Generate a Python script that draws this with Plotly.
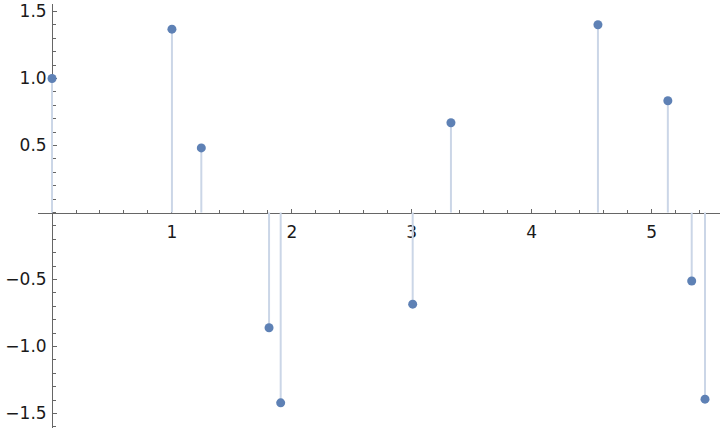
import plotly.graph_objects as go

# data
x_vals = [0.0, 1.0, 1.245, 1.81, 1.907, 3.008, 3.327, 4.553, 5.136, 5.335, 5.446]
y_vals = [1.0, 1.368, 0.482, -0.86, -1.42, -0.684, 0.67, 1.401, 0.834, -0.511, -1.393]
x_ticks = [1, 2, 3, 4, 5]
y_ticks = [-1.5, -1.0, -0.5, 0.5, 1.0, 1.5]

x_range = [-0.117, 5.571]
y_range = [-1.608, 1.556]

stem_x, stem_y = [], []
for xv, yv in zip(x_vals, y_vals):
    stem_x += [xv, xv, None]
    stem_y += [0, yv, None]

point_color = "#5E81B5"
stem_color = "rgb(203,214,231)"
axis_color = "#666666"

fig = go.Figure()
fig.add_trace(go.Scatter(x=stem_x, y=stem_y, mode="lines",
                         line=dict(color=stem_color, width=2),
                         hoverinfo="skip", showlegend=False))
fig.add_trace(go.Scatter(x=x_vals, y=y_vals, mode="markers",
                         marker=dict(color=point_color, size=9),
                         cliponaxis=False, showlegend=False))

xpos = (0 - y_range[0]) / (y_range[1] - y_range[0])
ypos = (0 - x_range[0]) / (x_range[1] - x_range[0])

tickfont = dict(family="DejaVu Sans", size=17, color="#1a1a1a")

fig.update_layout(
    width=720, height=428,
    margin=dict(l=38, r=0, t=4, b=0, autoexpand=False),
    plot_bgcolor="white", paper_bgcolor="white",
    xaxis=dict(range=x_range, anchor="free", position=xpos, automargin=False,
               showgrid=False, zeroline=False, showline=True,
               linecolor=axis_color, linewidth=1,
               tickmode="array", tickvals=x_ticks,
               ticktext=[str(t) for t in x_ticks],
               ticks="inside", ticklen=4, tickcolor=axis_color, tickwidth=1,
               minor=dict(dtick=0.2, tick0=0, ticks="inside", ticklen=2.5,
                          tickcolor=axis_color, tickwidth=1),
               tickfont=tickfont, ticklabelstandoff=4,
               layer="below traces"),
    yaxis=dict(range=y_range, anchor="free", position=ypos, automargin=False,
               showgrid=False, zeroline=False, showline=True,
               linecolor=axis_color, linewidth=1,
               tickmode="array", tickvals=y_ticks,
               ticktext=[f"{t:.1f}".replace("-", "\u2212") for t in y_ticks],
               ticks="inside", ticklen=4, tickcolor=axis_color, tickwidth=1,
               minor=dict(dtick=0.1, tick0=0, ticks="inside", ticklen=2.5,
                          tickcolor=axis_color, tickwidth=1),
               tickfont=tickfont, ticklabelstandoff=2,
               layer="below traces"),
)

fig.write_html("out.html", config={"displayModeBar": False},
               post_script="document.body.style.margin='0';document.body.style.overflow='hidden';")
